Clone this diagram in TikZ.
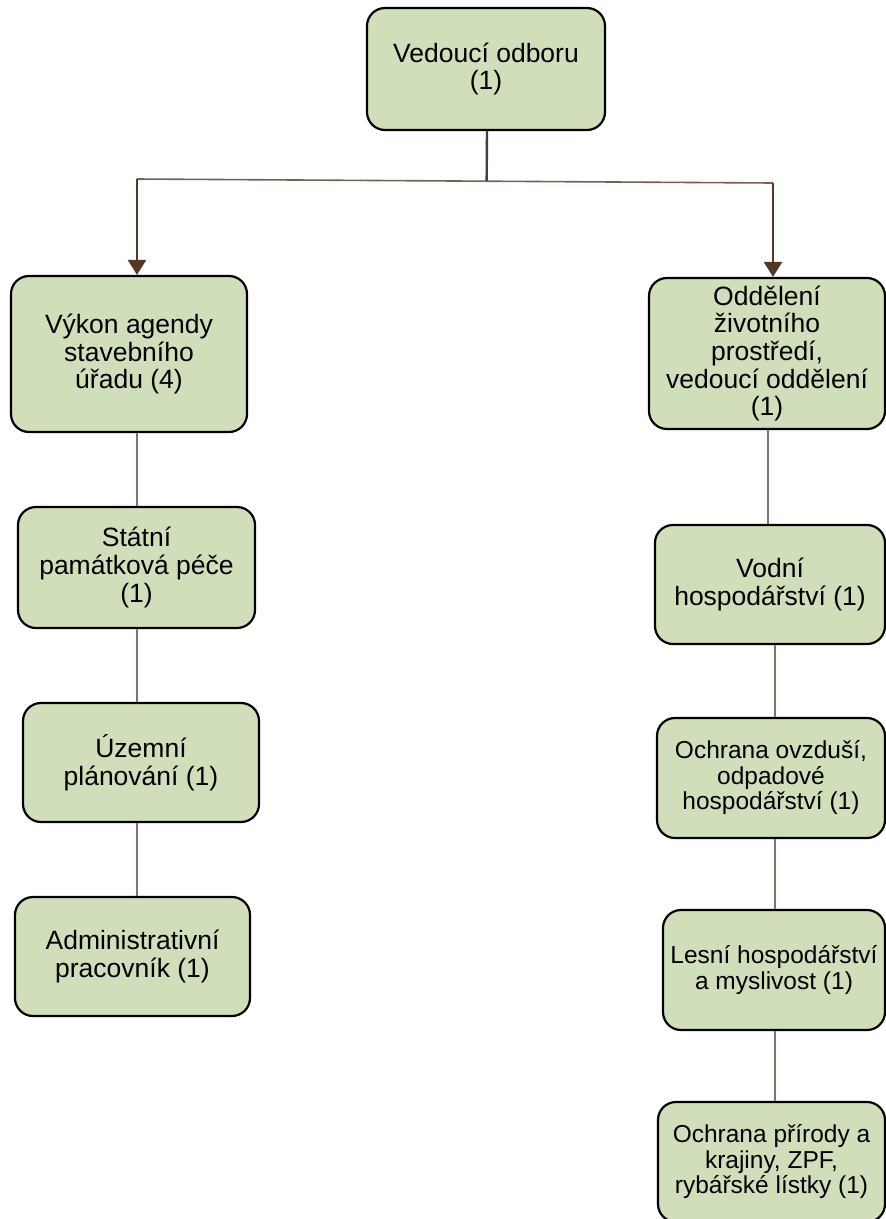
\documentclass[tikz,border=0pt]{standalone}
\usepackage{fontspec}
\setmainfont{Liberation Sans}
\usetikzlibrary{arrows.meta,calc}
\definecolor{boxfill}{RGB}{209,222,186}
\definecolor{arrbrown}{RGB}{84,56,36}
\definecolor{hbrown}{RGB}{120,95,80}
\definecolor{vbrown}{RGB}{130,115,105}
\definecolor{topgray}{RGB}{64,64,64}
\tikzset{
  orgbox/.style={draw=black, line width=2.2pt, fill=boxfill, rounded corners=18pt,
    align=center, inner sep=0pt, font=\fontsize{26.5}{27.6}\selectfont},
  orgsmall/.style={orgbox, font=\fontsize{24.5}{25.5}\selectfont},
  downarrow/.style={draw=arrbrown, line width=2.6pt, -{Triangle[width=18pt,length=15pt]}},
  hline/.style={draw=hbrown, line width=1.6pt},
  vline/.style={draw=vbrown, line width=1.4pt},
  topline/.style={draw=topgray, line width=2.4pt}
}
\begin{document}
\begin{tikzpicture}[x=1pt,y=-1pt]
\useasboundingbox (0,0) rectangle (886,1219);
\clip (0,0) rectangle (886,1219);
% boxes
\node[orgbox, minimum width=238pt, minimum height=122pt] (top) at (486,69) {Vedoucí odboru\\(1)};
\node[orgbox, minimum width=236pt, minimum height=156pt] (vykon) at (129,354) {Výkon agendy\\stavebního\\úřadu (4)};
\node[orgbox, minimum width=236pt, minimum height=151pt] (odd) at (767,353.5) {Oddělení\\životního\\prostředí,\\vedoucí oddělení\\(1)};
\node[orgbox, minimum width=237pt, minimum height=121pt] (statni) at (136.5,567.5) {Státní\\památková péče\\(1)};
\node[orgbox, minimum width=236pt, minimum height=119pt] (uzemni) at (141,762.5) {Územní\\plánování (1)};
\node[orgbox, minimum width=235pt, minimum height=119pt] (admin) at (132.5,956.5) {Administrativní\\pracovník (1)};
\node[orgbox, minimum width=230pt, minimum height=119pt] (vodni) at (770,584.5) {Vodní\\hospodářství (1)};
\node[orgsmall, minimum width=228pt, minimum height=120pt] (ovz) at (771,778) {Ochrana ovzduší,\\odpadové\\hospodářství (1)};
\node[orgsmall, minimum width=222pt, minimum height=120pt] (lesni) at (774,970) {Lesní hospodářství\\a myslivost (1)};
\node[orgsmall, minimum width=227pt, minimum height=120pt] (prirody) at (771.5,1162) {Ochrana přírody a\\krajiny, ZPF,\\rybářské lístky (1)};
% connectors
\coordinate (jL) at (137,179);
\coordinate (jR) at (773,183);
\coordinate (rc) at (775,0);
\coordinate (rc2) at (768,0);
\draw[hline] (jL) -- (jR);
\draw[topline] ([xshift=1pt]top.south) -- ($(jL)!([xshift=1pt]top.south)!(jR)$);
\draw[downarrow] (jL) -- (jL |- vykon.north);
\draw[downarrow] (jR) -- (jR |- odd.north);
\draw[vline] (jL |- vykon.south) -- (jL |- statni.north);
\draw[vline] (jL |- statni.south) -- (jL |- uzemni.north);
\draw[vline] (jL |- uzemni.south) -- (jL |- admin.north);
\draw[vline] (rc2 |- odd.south) -- (rc2 |- vodni.north);
\draw[vline] (rc |- vodni.south) -- (rc |- ovz.north);
\draw[vline] (rc |- ovz.south) -- (rc |- lesni.north);
\draw[vline] (rc |- lesni.south) -- (rc |- prirody.north);
\end{tikzpicture}
\end{document}
